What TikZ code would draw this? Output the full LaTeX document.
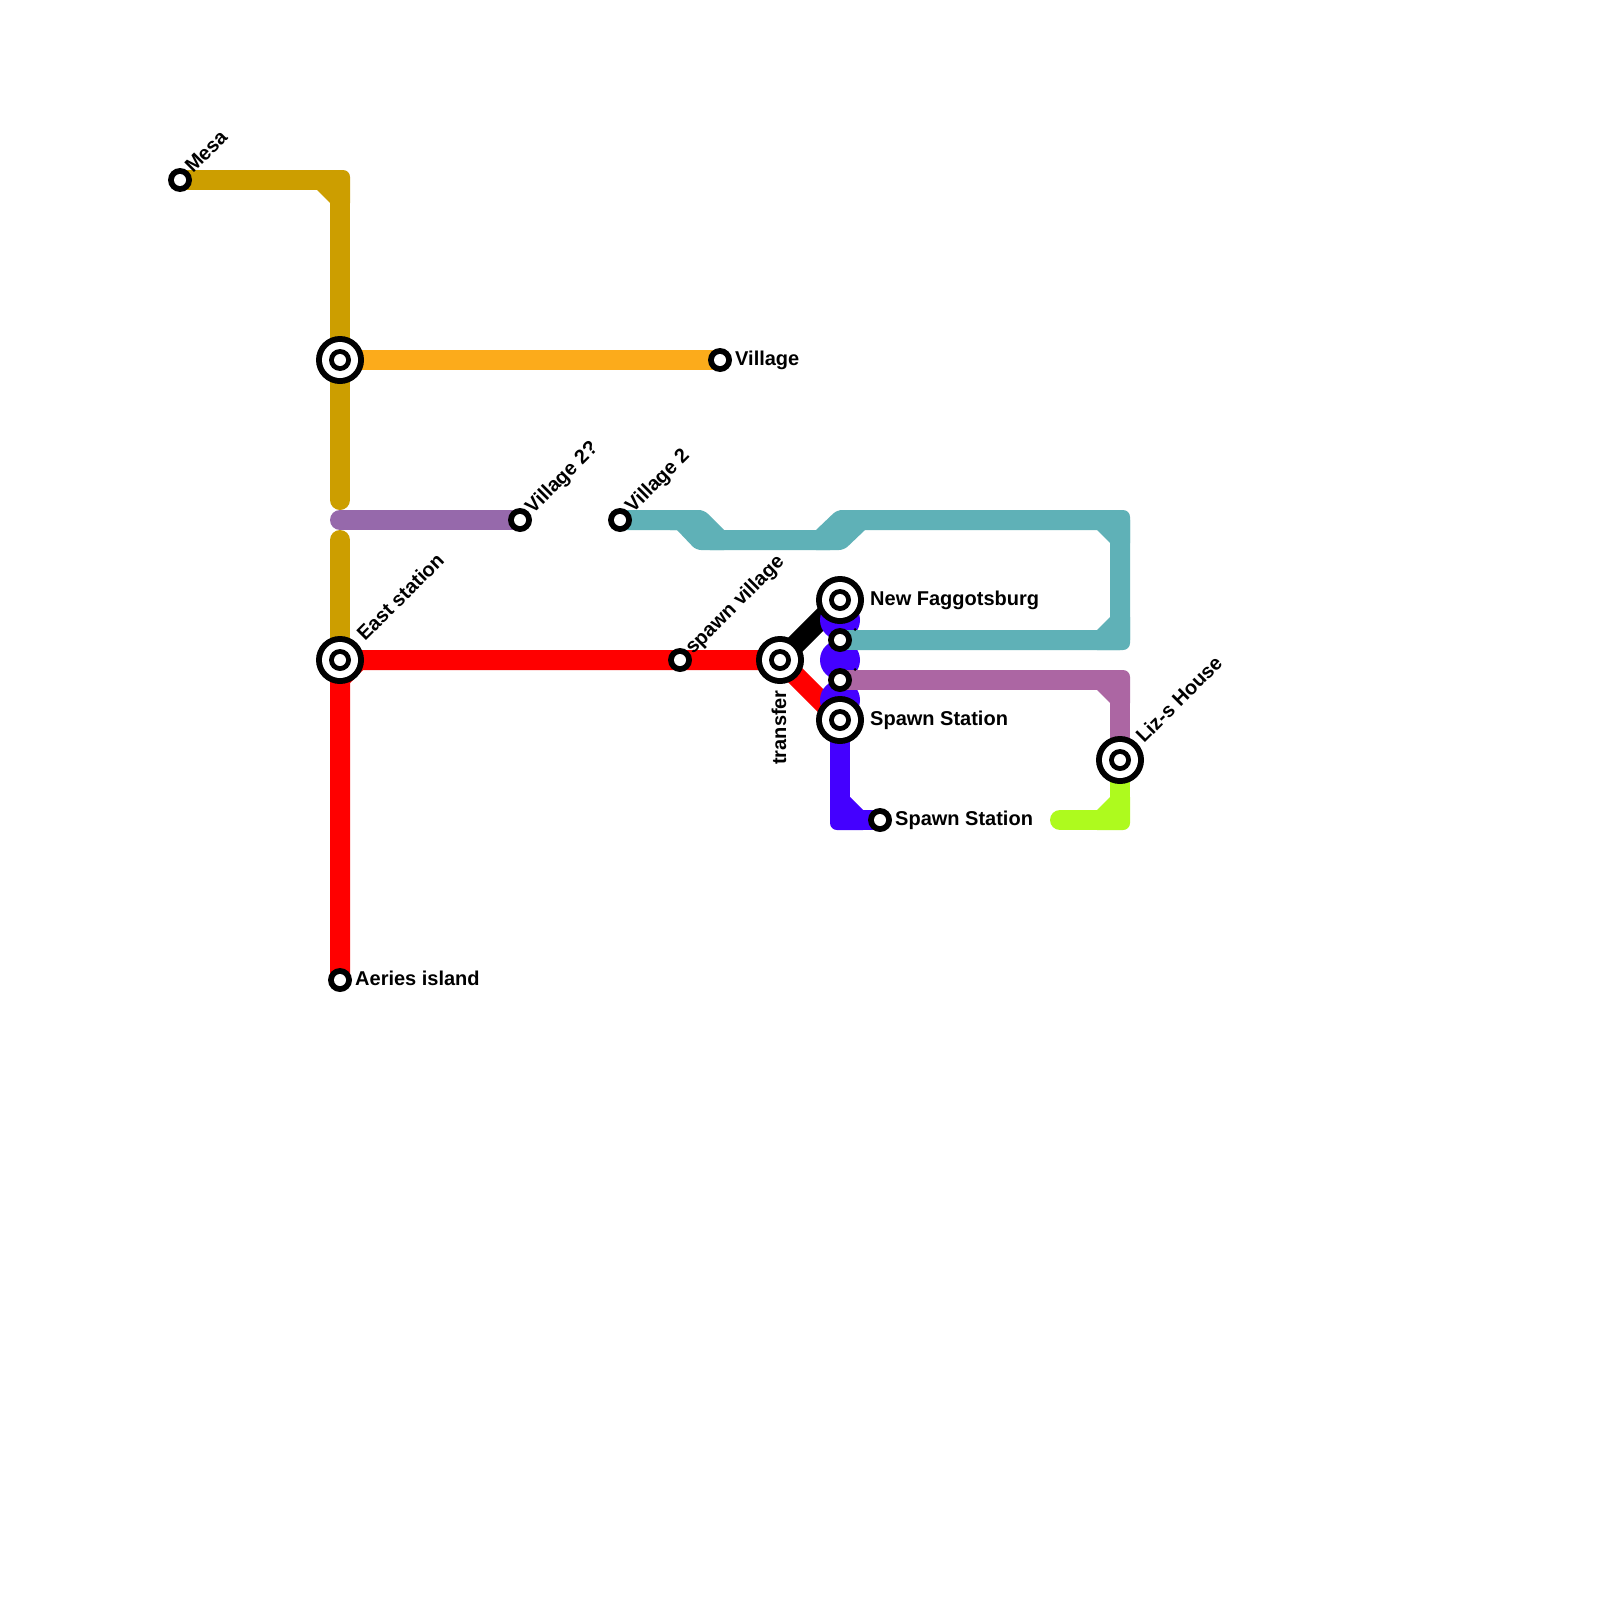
\documentclass[tikz,border=0pt]{standalone}
\usepackage{fontspec}
\setmainfont{Liberation Sans}
\definecolor{cgold}{HTML}{CC9E00}
\definecolor{corange}{HTML}{FCAB1B}
\definecolor{cviolet}{HTML}{9669AB}
\definecolor{cteal}{HTML}{5FB1B7}
\definecolor{cred}{HTML}{FF0000}
\definecolor{cblue}{HTML}{4400FF}
\definecolor{cmauve}{HTML}{AC66A3}
\definecolor{clime}{HTML}{AEFA1E}
\tikzset{
  metro/.style={line width=20pt,line join=round,line cap=round},
  lbl/.style={font=\fontsize{20}{22}\selectfont\bfseries,inner sep=0pt,text=black},
  bigstation/.style={circle,minimum size=0pt,inner sep=0pt},
  smallstation/.style={circle,minimum size=0pt,inner sep=0pt},
}
% patch for an outer rounded corner and a chamfered inner corner
\newcommand{\bend}[5]{%
  \begin{scope}[shift={(#2,#3)},xscale=#4,yscale=#5]
    \fill[#1] (-23,10) [rounded corners=7pt] -- (10,10) [sharp corners] -- (10,-23) -- (-10,-23) -- (-23,-10) -- cycle;
  \end{scope}}
\newcommand{\bigring}[1]{%
  \fill[black] (#1) circle (24);\fill[white] (#1) circle (18);
  \fill[black] (#1) circle (11);\fill[white] (#1) circle (6);}
\newcommand{\smallring}[1]{%
  \fill[black] (#1) circle (12);\fill[white] (#1) circle (6);}
\begin{document}
\begin{tikzpicture}[x=1pt,y=-1pt]
\useasboundingbox (0,0) rectangle (1600,1600);
\fill[white] (0,0) rectangle (1600,1600);
% station anchors
\node[bigstation] (east) at (340,660) {};
\node[bigstation] (north) at (340,360) {};
\node[bigstation] (transfer) at (780,660) {};
\node[bigstation] (newf) at (840,600) {};
\node[bigstation] (spawn) at (840,720) {};
\node[bigstation] (liz) at (1120,760) {};
\node[smallstation] (mesa) at (180,180) {};
\node[smallstation] (village) at (720,360) {};
\node[smallstation] (vtwoq) at (520,520) {};
\node[smallstation] (vtwo) at (620,520) {};
\node[smallstation] (svillage) at (680,660) {};
\node[smallstation] (aeries) at (340,980) {};
\node[smallstation] (tealend) at (840,640) {};
\node[smallstation] (mauveend) at (840,680) {};
\node[smallstation] (spawntwo) at (880,820) {};
\coordinate (goldgapa) at (340,500);
\coordinate (goldgapb) at (340,540);
\coordinate (violetstart) at (340,520);
\coordinate (limeend) at (1060,820);
% lines
\draw[metro,cgold] (mesa.center) -- (340,180) -- (north.center) -- (goldgapa);
\bend{cgold}{340}{180}{1}{-1}
\draw[metro,cgold] (goldgapb) -- (east.center);
\draw[metro,corange] (north.center) -- (village.center);
\draw[metro,cviolet] (violetstart) -- (vtwoq.center);
\draw[metro,cteal] (vtwo.center) -- (690,520) -- (710,540) -- (830,540) -- (850,520) -- (1120,520) -- (1120,640) -- (tealend.center);
\fill[cteal] (670,510) [rounded corners=5pt] -- (704,510) [sharp corners] -- (724,530) -- (724,550) [rounded corners=5pt] -- (696,550) [sharp corners] -- (677,530) -- (670,530) -- cycle;
\fill[cteal] (816,530) [rounded corners=5pt] -- (837,510) [sharp corners] -- (865,510) -- (865,530) [rounded corners=5pt] -- (844,550) [sharp corners] -- (816,550) -- cycle;
\bend{cteal}{1120}{520}{1}{-1}
\bend{cteal}{1120}{640}{1}{1}
\draw[metro,cmauve] (mauveend.center) -- (1120,680) -- (liz.center);
\bend{cmauve}{1120}{680}{1}{-1}
\draw[metro,clime] (limeend) -- (1120,820) -- (liz.center);
\bend{clime}{1120}{820}{1}{1}
\draw[metro,cred] (aeries.center) -- (east.center) -- (transfer.center) -- (spawn.center);
\bend{cred}{340}{660}{-1}{-1}
\draw[metro,black] (transfer.center) -- (newf.center);
\draw[metro,cblue] (spawn.center) -- (840,820) -- (spawntwo.center);
\bend{cblue}{840}{820}{-1}{1}
\fill[cblue] (840,620) circle (20);
\fill[cblue] (840,660) circle (20);
\fill[cblue] (840,700) circle (20);
\draw[metro,cteal] (870,640) -- (tealend.center);
\draw[metro,cmauve] (870,680) -- (mauveend.center);
\fill[black] (855,629.5) circle (1.5);
\fill[black] (855,669.5) circle (1.5);
% stations
\bigring{east}\bigring{north}\bigring{transfer}\bigring{newf}\bigring{spawn}\bigring{liz}
\smallring{mesa}\smallring{village}\smallring{vtwoq}\smallring{vtwo}\smallring{svillage}\smallring{aeries}\smallring{tealend}\smallring{mauveend}\smallring{spawntwo}
% labels
\node[lbl,anchor=base west,rotate=45] (lmesa) at (193,174) {Mesa};
\node[lbl,anchor=base west] (lvillage) at (735,365) {Village};
\node[lbl,anchor=base west,rotate=45] (lvtwoq) at (533,515) {Village 2?};
\node[lbl,anchor=base west,rotate=45] (lvtwo) at (633,514) {Village 2};
\node[lbl,anchor=base west,rotate=45] (least) at (365,642) {East station};
\node[lbl,anchor=base west,rotate=45] (lsv) at (693,655) {spawn village};
\node[lbl,anchor=base east,rotate=90] (ltr) at (786,690) {transfer};
\node[lbl,anchor=base west] (lnewf) at (870,605) {New Faggotsburg};
\node[lbl,anchor=base west] (lspawn) at (870,725) {Spawn Station};
\node[lbl,anchor=base west] (lspawntwo) at (895,825) {Spawn Station};
\node[lbl,anchor=base west,rotate=45] (lliz) at (1144,744) {Liz-s House};
\node[lbl,anchor=base west] (laeries) at (355,985) {Aeries island};
\end{tikzpicture}
\end{document}
